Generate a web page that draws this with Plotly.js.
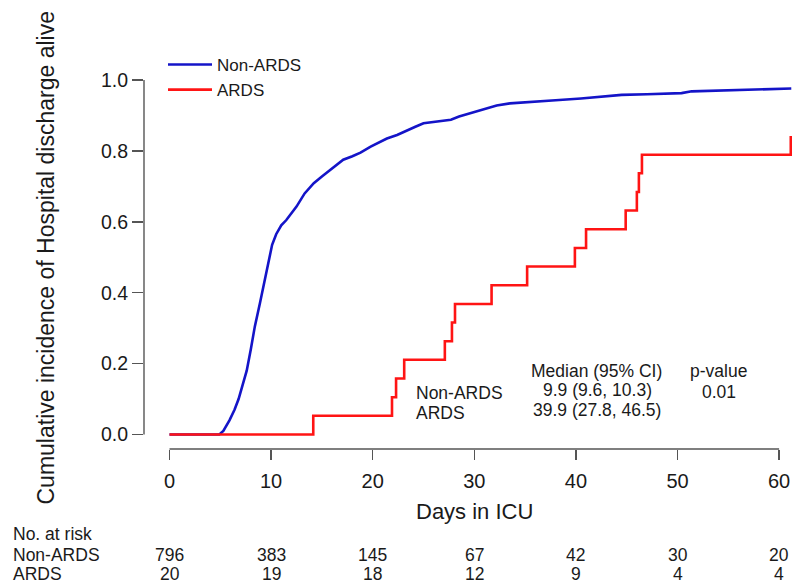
<!DOCTYPE html>
<html>
<head>
<meta charset="utf-8">
<script src="https://cdn.plot.ly/plotly-3.0.1.min.js"></script>
<style>html,body{margin:0;padding:0;background:#fff;}#chart{width:792px;height:583px;}</style>
</head>
<body>
<div id="chart"></div>
<script>
// ---- data ----
const nonArdsDays = [0, 4.9, 5.3, 5.9, 6.4, 6.8, 7.2, 7.6, 8.0, 8.4, 8.9, 9.4, 9.8, 10.1, 10.5, 11.0, 11.5, 12.0, 12.5, 13.3, 14.2, 15.0, 15.8, 17.1, 18.0, 18.8, 19.8, 20.5, 21.4, 22.4, 23.4, 24.2, 25.0, 26.0, 27.7, 28.5, 29.6, 30.6, 32.2, 33.5, 35.6, 38.0, 40.5, 42.5, 44.5, 47.0, 50.4, 51.4, 54.0, 57.0, 59.0, 61.2];
const nonArdsCum  = [0, 0, 0.01, 0.04, 0.07, 0.10, 0.14, 0.18, 0.24, 0.305, 0.37, 0.437, 0.50, 0.535, 0.565, 0.59, 0.605, 0.625, 0.643, 0.68, 0.709, 0.728, 0.746, 0.775, 0.785, 0.795, 0.812, 0.822, 0.835, 0.845, 0.859, 0.868, 0.878, 0.882, 0.888, 0.897, 0.906, 0.914, 0.928, 0.934, 0.939, 0.943, 0.948, 0.953, 0.958, 0.960, 0.963, 0.968, 0.970, 0.972, 0.974, 0.976];
const ardsDays = [0, 14.15, 21.9, 22.3, 23.1, 27.1, 27.8, 28.1, 31.7, 35.2, 39.9, 41.0, 44.9, 46.0, 46.2, 46.5, 61.15];
const ardsCum  = [0, 0.053, 0.105, 0.158, 0.211, 0.263, 0.316, 0.368, 0.421, 0.474, 0.526, 0.579, 0.632, 0.684, 0.737, 0.789, 0.842];
const xTicks = [0, 10, 20, 30, 40, 50, 60];
const yTicks = [0, 0.2, 0.4, 0.6, 0.8, 1.0];
const riskNonArds = [796, 383, 145, 67, 42, 30, 20];
const riskArds = [20, 19, 18, 12, 9, 4, 4];
const groupNames = ["Non-ARDS", "ARDS"];
const medianCI = ["9.9 (9.6, 10.3)", "39.9 (27.8, 46.5)"];
const pValue = "0.01";

// ---- layout helpers (pixel -> paper) ----
const W = 792, H = 583, mL = 144, mR = 0, mT = 60, mB = 134;
const pw = W - mL - mR, ph = H - mT - mB;
const px = p => (p - mL) / pw;
const py = p => (H - mB - p) / ph;
const X0 = 169.5, XS = 10.16;   // pixel of day 0, px per day
const Y0 = 434.5, YS = 354.5;   // pixel of 0.0, px per unit
const FONT = '"Liberation Sans", Arial, Helvetica, sans-serif';
const TXT = '#1a1a1a';
const FS = 17.5;

const traces = [
  {x: nonArdsDays, y: nonArdsCum, name: groupNames[0], mode: 'lines',
   line: {color: '#1414c8', width: 2.6, shape: 'linear'}},
  {x: ardsDays, y: ardsCum, name: groupNames[1], mode: 'lines',
   line: {color: '#ff1414', width: 2.6, shape: 'hv'}}
];

function txt(x, y, text, anchor, size, xref) {
  return {xref: xref || 'paper', yref: 'paper', x: x, y: y, text: text, showarrow: false,
    font: {size: size || FS, color: TXT}, xanchor: anchor || 'center', yanchor: 'middle'};
}

const ann = [];
ann.push(Object.assign(txt(px(45), py(258.5), 'Cumulative incidence of Hospital discharge alive', 'center', 23), {textangle: -90}));
ann.push(txt(px(474.5), py(511), 'Days in ICU', 'center', 22));
// stats block
ann.push(txt(px(596.5), py(370.5), 'Median (95% CI)'));
ann.push(txt(px(718.5), py(370.5), 'p-value'));
ann.push(txt(px(414), py(392.5), groupNames[0], 'left'));
ann.push(txt(px(414), py(412.5), groupNames[1], 'left'));
ann.push(txt(px(597.5), py(389.5), medianCI[0]));
ann.push(txt(px(596.5), py(409.5), medianCI[1]));
ann.push(txt(px(718.5), py(391.5), pValue));
// risk table
ann.push(txt(px(11), py(534), 'No. at risk', 'left'));
ann.push(txt(px(11), py(555), groupNames[0], 'left'));
ann.push(txt(px(11), py(573.5), groupNames[1], 'left'));
xTicks.forEach((t, i) => {
  ann.push(txt(t, py(555), String(riskNonArds[i]), 'center', FS, 'x'));
  ann.push(txt(t, py(573.5), String(riskArds[i]), 'center', FS, 'x'));
});

const shapes = [
  {type: 'line', xref: 'paper', yref: 'y', x0: 0, x1: 0, y0: yTicks[0], y1: yTicks[yTicks.length - 1], line: {color: '#555', width: 1.4}},
  {type: 'line', xref: 'x', yref: 'paper', x0: xTicks[0], x1: xTicks[xTicks.length - 1], y0: 0, y1: 0, line: {color: '#555', width: 1.4}}
];

const layout = {
  width: W, height: H,
  margin: {l: mL, r: mR, t: mT, b: mB, pad: 0},
  paper_bgcolor: '#fff', plot_bgcolor: '#fff',
  font: {family: FONT, color: TXT, size: FS},
  showlegend: true,
  legend: {x: px(163), y: py(47), xanchor: 'left', yanchor: 'top', bgcolor: 'rgba(0,0,0,0)',
    font: {size: 17, color: TXT}, tracegroupgap: 0, itemwidth: 44},
  xaxis: {range: [(mL - X0) / XS, (W - mR - X0) / XS], tickvals: xTicks, ticktext: xTicks.map(String),
    ticks: 'outside', ticklen: 10, tickcolor: '#555', tickwidth: 1.4, showline: false, showgrid: false, zeroline: false,
    tickfont: {size: 20, color: TXT}, ticklabelstandoff: 4, fixedrange: true},
  yaxis: {range: [(Y0 - (H - mB)) / YS, (Y0 - mT) / YS], tickvals: yTicks, ticktext: yTicks.map(v => v.toFixed(1)),
    ticks: 'outside', ticklen: 11, tickcolor: '#555', tickwidth: 1.4, showline: false, showgrid: false, zeroline: false,
    tickfont: {size: 19.5, color: TXT}, fixedrange: true},
  annotations: ann,
  shapes: shapes
};

Plotly.newPlot('chart', traces, layout, {displayModeBar: false, staticPlot: true});
</script>
</body>
</html>
